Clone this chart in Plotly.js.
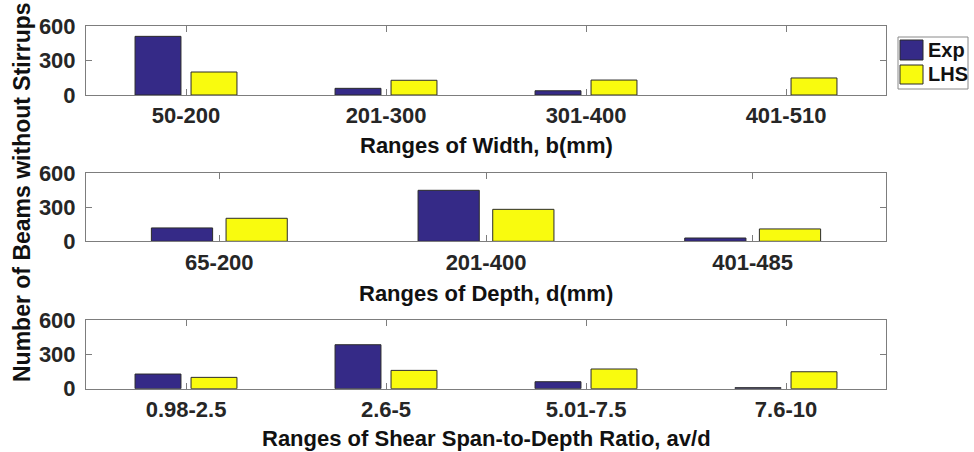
<!DOCTYPE html>
<html>
<head>
<meta charset="utf-8">
<script src="https://cdn.plot.ly/plotly-3.0.1.min.js"></script>
<style>
  html, body { margin: 0; padding: 0; background: #fff; }
  #chart { width: 974px; height: 452px; }
</style>
</head>
<body>
<div id="chart"></div>
<script>
// Beam counts per parameter range: experimental database vs. LHS samples
const widthRanges = ['50-200', '201-300', '301-400', '401-510'];
const widthExp = [510, 58, 37, 0];
const widthLHS = [200, 128, 130, 148];

const depthRanges = ['65-200', '201-400', '401-485'];
const depthExp = [118, 450, 29];
const depthLHS = [203, 282, 109];

const ratioRanges = ['0.98-2.5', '2.6-5', '5.01-7.5', '7.6-10'];
const ratioExp = [128, 384, 61, 9];
const ratioLHS = [99, 160, 172, 148];

const seriesNames = ['Exp', 'LHS'];
const yTicks = [0, 300, 600];

const expColor = '#352A87';
const lhsColor = '#F9FB0E';
const edgeColor = '#2b2b2b';
const axisColor = '#7d7d7d';
const textColor = '#262626';
const fontFamily = '"Liberation Sans", Arial, sans-serif';

function barTrace(cats, vals, name, color, axisIdx) {
  const sfx = axisIdx === 1 ? '' : String(axisIdx);
  return {
    type: 'bar', x: cats, y: vals, name: name,
    xaxis: 'x' + sfx, yaxis: 'y' + sfx,
    // empty bins get no outline, so nothing is drawn for them
    marker: { color: color, line: { color: edgeColor, width: vals.map(v => (v > 0 ? 1 : 0)) } },
    showlegend: false, hoverinfo: 'x+y+name'
  };
}

const data = [
  barTrace(widthRanges, widthExp, seriesNames[0], expColor, 1),
  barTrace(widthRanges, widthLHS, seriesNames[1], lhsColor, 1),
  barTrace(depthRanges, depthExp, seriesNames[0], expColor, 2),
  barTrace(depthRanges, depthLHS, seriesNames[1], lhsColor, 2),
  barTrace(ratioRanges, ratioExp, seriesNames[0], expColor, 3),
  barTrace(ratioRanges, ratioLHS, seriesNames[1], lhsColor, 3)
];

const xDomain = [86 / 974, 886 / 974];
const tickFont = { family: fontFamily, size: 22, color: textColor, weight: 'bold' };

function xAxis(anchor) {
  return {
    domain: xDomain, anchor: anchor, type: 'category',
    showline: true, linecolor: axisColor, linewidth: 1, mirror: 'ticks',
    ticks: 'inside', ticklen: 6, tickcolor: axisColor, tickwidth: 1,
    showgrid: false, zeroline: false, tickfont: tickFont,
    ticklabelstandoff: 1, fixedrange: true
  };
}
function yAxis(anchor, domain) {
  return {
    domain: domain, anchor: anchor, range: [0, 600],
    tickvals: yTicks, ticktext: yTicks.map(String),
    showline: true, linecolor: axisColor, linewidth: 1, mirror: 'ticks',
    ticks: 'inside', ticklen: 6, tickcolor: axisColor, tickwidth: 1,
    showgrid: false, zeroline: false, tickfont: tickFont,
    ticklabelstandoff: 5, fixedrange: true
  };
}

const titleFont = { family: fontFamily, size: 22, color: '#111', weight: 'bold' };
function note(text, x, y, extra) {
  return Object.assign({
    text: text, xref: 'paper', yref: 'paper', x: x, y: y,
    showarrow: false, font: titleFont, xanchor: 'center', yanchor: 'middle'
  }, extra || {});
}

const legendFont = { family: fontFamily, size: 20, color: '#111', weight: 'bold' };

const layout = {
  width: 974, height: 452,
  margin: { l: 0, r: 0, t: 0, b: 0 },
  paper_bgcolor: '#fff', plot_bgcolor: '#fff',
  barmode: 'group', bargap: 0.44, bargroupgap: 0.18,
  showlegend: false,
  xaxis: xAxis('y'),
  yaxis: yAxis('x', [1 - 95 / 452, 1 - 26 / 452]),
  xaxis2: xAxis('y2'),
  yaxis2: yAxis('x2', [1 - 241.3 / 452, 1 - 173.3 / 452]),
  xaxis3: xAxis('y3'),
  yaxis3: yAxis('x3', [1 - 388.7 / 452, 1 - 320 / 452]),
  annotations: [
    note('Ranges of Width, b(mm)', 486 / 974, 1 - 146 / 452),
    note('Ranges of Depth, d(mm)', 486 / 974, 1 - 293 / 452),
    note('Ranges of Shear Span-to-Depth Ratio, av/d', 486 / 974, 1 - 438 / 452),
    note('Number of Beams without Stirrups', 22 / 974, 1 - 192 / 452,
         { textangle: -90, font: Object.assign({}, titleFont, { size: 23 }) }),
    note(seriesNames[0], 926 / 974, 1 - 50 / 452, { xanchor: 'left', font: legendFont }),
    note(seriesNames[1], 926 / 974, 1 - 74 / 452, { xanchor: 'left', font: legendFont })
  ],
  shapes: [
    // legend frame and swatches
    { type: 'rect', xref: 'paper', yref: 'paper',
      x0: 898 / 974, x1: 968 / 974, y0: 1 - 89 / 452, y1: 1 - 37 / 452,
      line: { color: '#8a8a8a', width: 1 }, fillcolor: '#fff', layer: 'below' },
    { type: 'rect', xref: 'paper', yref: 'paper',
      x0: 900 / 974, x1: 923 / 974, y0: 1 - 60 / 452, y1: 1 - 40 / 452,
      line: { color: edgeColor, width: 1 }, fillcolor: expColor },
    { type: 'rect', xref: 'paper', yref: 'paper',
      x0: 900 / 974, x1: 923 / 974, y0: 1 - 84 / 452, y1: 1 - 65 / 452,
      line: { color: edgeColor, width: 1 }, fillcolor: lhsColor }
  ]
};

Plotly.newPlot('chart', data, layout, { displayModeBar: false, staticPlot: true });
</script>
</body>
</html>
